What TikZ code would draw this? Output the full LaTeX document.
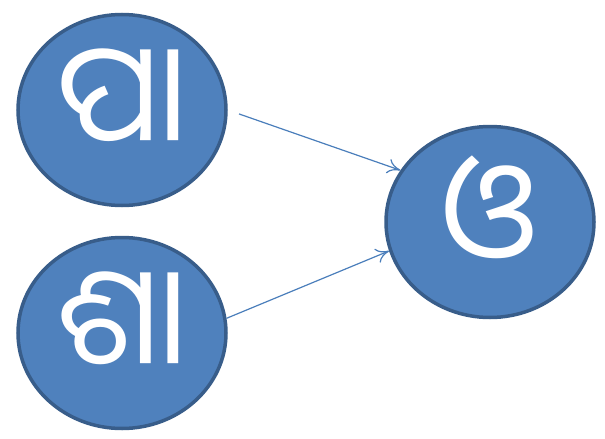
\documentclass[tikz,border=0pt]{standalone}
\usepackage{fontspec}
\usepackage{tikz}
\usetikzlibrary{shapes.geometric,arrows.meta}
\newfontfamily\odiafont[Script=Oriya]{Noto Sans Oriya UI}
\definecolor{bubblefill}{HTML}{4F81BD}
\definecolor{bubbleline}{HTML}{385D8A}
\definecolor{arrowline}{HTML}{4A7EBB}
\newcommand{\lifted}[1]{\raisebox{9pt}[\height][\depth]{#1}}
\begin{document}
\begin{tikzpicture}[x=1pt,y=-1pt,
  bubble/.style={ellipse,draw=bubbleline,fill=bubblefill,line width=3.5pt,minimum width=208pt,minimum height=191pt,inner sep=0pt,text=white,font=\odiafont\fontsize{138}{138}\selectfont},
  link/.style={draw=arrowline,line width=1.2pt,->,>={To[length=13pt,width=15pt,open]}}]
\useasboundingbox (0,0) rectangle (605,439);
\node[bubble] (pa) at (122,110) {\lifted{ପା}};
\node[bubble] (sha) at (122,333) {\lifted{ଶା}};
\node[bubble] (o) at (490,222) {\lifted{ଓ}};
\draw[link,shorten <=12pt] (pa.east) -- (o.150);
\draw[link] (sha.8) -- (o.196);
\end{tikzpicture}
\end{document}
